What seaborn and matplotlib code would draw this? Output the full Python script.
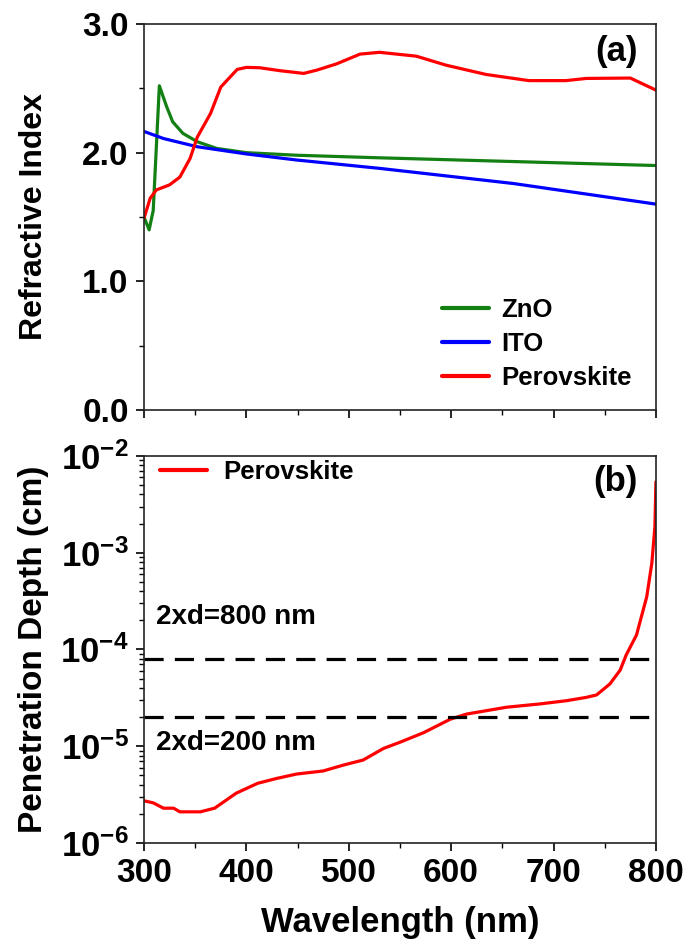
import numpy as np
import pandas as pd
import matplotlib
matplotlib.use('Agg')
import matplotlib.pyplot as plt
import seaborn as sns
from matplotlib.ticker import MultipleLocator, LogLocator, FixedLocator, NullFormatter

# refractive index data (a)
wl_zno = [300, 305, 309, 315, 322, 328, 338, 352, 371, 400, 449, 530, 800]
n_zno = [1.50, 1.40, 1.55, 2.52, 2.36, 2.24, 2.15, 2.085, 2.033, 2.00, 1.98, 1.96, 1.90]

wl_ito = [300, 319, 352, 400, 449, 530, 661, 800]
n_ito = [2.165, 2.11, 2.046, 1.99, 1.943, 1.878, 1.76, 1.60]

wl_pvk = [300, 306, 312, 325, 335, 345, 352, 365, 375, 391, 400, 413, 433, 456, 469,
          488, 511, 530, 566, 595, 634, 676, 712, 732, 775, 800]
n_pvk = [1.49, 1.645, 1.71, 1.75, 1.81, 1.955, 2.12, 2.305, 2.51, 2.647, 2.663, 2.66,
         2.637, 2.616, 2.642, 2.69, 2.766, 2.78, 2.75, 2.68, 2.608, 2.56, 2.56, 2.577,
         2.58, 2.486]

# penetration depth data (b)
wl_pd = [300, 309, 319, 329, 335, 355, 369, 390, 411, 430, 449, 475, 495, 514, 534, 550,
         573, 599, 615, 654, 687, 713, 732, 742, 755, 765, 771, 781, 791, 796, 799, 800]
pd_pvk = [2.73e-6, 2.6e-6, 2.29e-6, 2.29e-6, 2.1e-6, 2.1e-6, 2.29e-6, 3.27e-6, 4.14e-6,
          4.66e-6, 5.16e-6, 5.55e-6, 6.4e-6, 7.2e-6, 9.5e-6, 1.1e-5, 1.38e-5, 1.9e-5,
          2.15e-5, 2.53e-5, 2.74e-5, 2.96e-5, 3.2e-5, 3.39e-5, 4.4e-5, 6.1e-5, 8.8e-5,
          1.41e-4, 3.5e-4, 7.8e-4, 1.86e-3, 5.4e-3]

# thickness reference lines
ref_levels = [8e-5, 2e-5]
ref_labels = ['2xd=800 nm', '2xd=200 nm']

sns.set_style('ticks')
plt.rcParams['font.family'] = ['Liberation Sans', 'DejaVu Sans']
plt.rcParams['font.weight'] = 'bold'
plt.rcParams['mathtext.fontset'] = 'custom'
plt.rcParams['mathtext.rm'] = 'Liberation Sans:bold'
plt.rcParams['mathtext.bf'] = 'Liberation Sans:bold'
plt.rcParams['mathtext.default'] = 'rm'
plt.rcParams['axes.linewidth'] = 1.2
for key in ['text.color', 'axes.labelcolor', 'xtick.color', 'ytick.color']:
    plt.rcParams[key] = 'black'

fig = plt.figure(figsize=(6.89, 9.49), dpi=100)
ax1 = fig.add_axes([0.209, 0.568, 0.743, 0.4067])
ax2 = fig.add_axes([0.209, 0.1117, 0.743, 0.4078])

df_a = pd.concat([
    pd.DataFrame({'wl': wl_zno, 'n': n_zno, 'mat': 'ZnO'}),
    pd.DataFrame({'wl': wl_ito, 'n': n_ito, 'mat': 'ITO'}),
    pd.DataFrame({'wl': wl_pvk, 'n': n_pvk, 'mat': 'Perovskite'}),
])
sns.lineplot(data=df_a, x='wl', y='n', hue='mat', estimator=None, sort=False,
             palette={'ZnO': '#138013', 'ITO': '#0000ff', 'Perovskite': '#ff0000'},
             linewidth=2.3, ax=ax1)

ax1.set_xlim(300, 800)
ax1.set_ylim(0, 3.0)
ax1.yaxis.set_major_locator(MultipleLocator(1.0))
ax1.yaxis.set_minor_locator(MultipleLocator(0.5))
ax1.xaxis.set_major_locator(MultipleLocator(100))
ax1.xaxis.set_minor_locator(MultipleLocator(50))
ax1.set_yticklabels(['%.1f' % v for v in ax1.get_yticks()])
ax1.xaxis.set_major_formatter(NullFormatter())
ax1.set_xlabel('')
ax1.set_ylabel('Refractive Index', fontsize=23, fontweight='bold')
ax1.yaxis.set_label_coords(-0.185, 0.5)
ax1.text(0.965, 0.93, '(a)', transform=ax1.transAxes, ha='right', va='center',
         fontsize=25, fontweight='bold')
leg = ax1.legend(loc='upper left', bbox_to_anchor=(0.582, 0.29), frameon=False,
                 fontsize=18.5, handlelength=1.85, handletextpad=0.45, borderpad=0,
                 borderaxespad=0, labelspacing=0.38)
for h in leg.get_lines():
    h.set_linewidth(3)

df_b = pd.DataFrame({'wl': wl_pd, 'depth': pd_pvk})
sns.lineplot(data=df_b, x='wl', y='depth', color='#ff0000', linewidth=2.3,
             estimator=None, sort=False, label='Perovskite', ax=ax2)
for lvl in ref_levels:
    ax2.axhline(lvl, color='black', linewidth=2.3, linestyle=(0, (6, 3.5)))
ax2.set_yscale('log')
ax2.set_xlim(300, 800)
ax2.set_ylim(1e-6, 1e-2)
ax2.xaxis.set_major_locator(MultipleLocator(100))
ax2.xaxis.set_minor_locator(MultipleLocator(50))
ax2.yaxis.set_major_locator(FixedLocator([1e-6, 1e-5, 1e-4, 1e-3, 1e-2]))
ax2.yaxis.set_minor_locator(LogLocator(base=10, subs=np.arange(2, 10), numticks=20))
ax2.yaxis.set_minor_formatter(NullFormatter())
ax2.set_yticklabels([r'$10^{-6}$', r'$10^{-5}$', r'$10^{-4}$', r'$10^{-3}$', r'$10^{-2}$'])
ax2.set_xticklabels([str(int(v)) for v in ax2.get_xticks()])
ax2.set_xlabel('Wavelength (nm)', fontsize=25, fontweight='bold', labelpad=12)
ax2.set_ylabel('Penetration Depth (cm)', fontsize=24, fontweight='bold')
ax2.yaxis.set_label_coords(-0.185, 0.5)
ax2.text(0.965, 0.935, '(b)', transform=ax2.transAxes, ha='right', va='center',
         fontsize=25, fontweight='bold')
ax2.text(0.024, 0.584, ref_labels[0], transform=ax2.transAxes, ha='left', va='center',
         fontsize=20, fontweight='bold')
ax2.text(0.024, 0.258, ref_labels[1], transform=ax2.transAxes, ha='left', va='center',
         fontsize=20, fontweight='bold')
leg2 = ax2.legend(loc='upper left', bbox_to_anchor=(0.031, 0.99), frameon=False,
                  fontsize=18.5, handlelength=1.85, handletextpad=0.6, borderpad=0,
                  borderaxespad=0)
for h in leg2.get_lines():
    h.set_linewidth(3)

for ax in (ax1, ax2):
    for s in ax.spines.values():
        s.set_visible(True)
        s.set_color('#222222')
    ax.tick_params(which='major', direction='out', length=6, width=1.2,
                   labelsize=24, pad=5, top=False, right=False)
    ax.tick_params(which='minor', direction='out', length=3.5, width=1.0,
                   top=False, right=False)
    for lab in ax.get_xticklabels() + ax.get_yticklabels():
        lab.set_fontweight('bold')
ax2.tick_params(axis='y', which='major', labelsize=25)

fig.savefig('out.png', dpi=100)
